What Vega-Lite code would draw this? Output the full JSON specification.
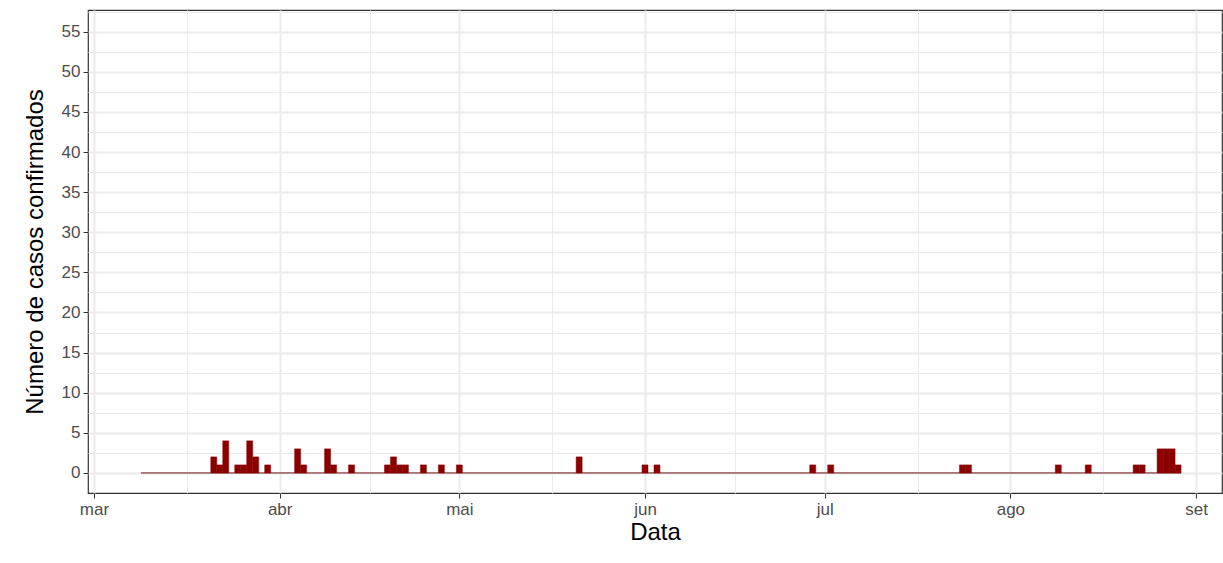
{
"$schema":"https://vega.github.io/schema/vega-lite/v6.json",
"width":1134,"height":483,"autosize":"none",
"padding":{"left":88,"top":10,"right":1,"bottom":70},
"background":"white",
"config":{"view":{"stroke":"#333333","strokeWidth":1.2},"font":"Liberation Sans"},
"datasets":{
"casos":[
{"data":"2020-03-21","n":2},{"data":"2020-03-22","n":1},{"data":"2020-03-23","n":4},{"data":"2020-03-25","n":1},{"data":"2020-03-26","n":1},{"data":"2020-03-27","n":4},{"data":"2020-03-28","n":2},{"data":"2020-03-30","n":1},
{"data":"2020-04-04","n":3},{"data":"2020-04-05","n":1},{"data":"2020-04-09","n":3},{"data":"2020-04-10","n":1},{"data":"2020-04-13","n":1},{"data":"2020-04-19","n":1},{"data":"2020-04-20","n":2},{"data":"2020-04-21","n":1},{"data":"2020-04-22","n":1},{"data":"2020-04-25","n":1},{"data":"2020-04-28","n":1},{"data":"2020-05-01","n":1},
{"data":"2020-05-21","n":2},{"data":"2020-06-01","n":1},{"data":"2020-06-03","n":1},{"data":"2020-06-29","n":1},{"data":"2020-07-02","n":1},
{"data":"2020-07-24","n":1},{"data":"2020-07-25","n":1},{"data":"2020-08-09","n":1},{"data":"2020-08-14","n":1},{"data":"2020-08-22","n":1},{"data":"2020-08-23","n":1},{"data":"2020-08-26","n":3},{"data":"2020-08-27","n":3},{"data":"2020-08-28","n":3},{"data":"2020-08-29","n":1}
],
"periodo":[{"inicio":"2020-03-08T20:00:00Z","fim":"2020-08-29T12:00:00Z","n":0}]
},
"layer":[
{"data":{"values":[{"d":"2020-03-16T12:00:00Z"}]},
"mark":{"type":"rule","strokeWidth":0},
"encoding":{"x":{"field":"d","type":"temporal","scale":{"type":"utc","padding":0,"nice":false,"domain":["2020-02-29T00:00:00Z","2020-09-05T08:00:00Z"]},
"axis":{"orient":"top","values":[{"year":2020,"month":3,"date":16,"hours":12,"utc":true},{"year":2020,"month":4,"date":16,"utc":true},{"year":2020,"month":5,"date":16,"hours":12,"utc":true},{"year":2020,"month":6,"date":16,"utc":true},{"year":2020,"month":7,"date":16,"hours":12,"utc":true},{"year":2020,"month":8,"date":16,"hours":12,"utc":true}],"labels":false,"ticks":false,"domain":false,"title":null,"grid":true,"gridColor":"#EBEBEB","gridWidth":1}},
"y":{"datum":0,"type":"quantitative","scale":{"domain":[-2.5,57.7],"nice":false,"zero":false,"padding":0},
"axis":{"orient":"right","values":[2.5,7.5,12.5,17.5,22.5,27.5,32.5,37.5,42.5,47.5,52.5,57.5],"labels":false,"ticks":false,"domain":false,"title":null,"grid":true,"gridColor":"#EBEBEB","gridWidth":1}}}},
{"data":{"name":"periodo"},"mark":{"type":"rule","color":"#6B1010","strokeWidth":1},
"encoding":{"x":{"field":"inicio","type":"temporal","axis":null},"x2":{"field":"fim"},"y":{"field":"n","type":"quantitative","axis":null}}},
{"data":{"name":"casos"},"mark":{"type":"bar","color":"#8B0000","size":6,"stroke":"#8B0000","strokeWidth":0.5},
"encoding":{
"x":{"field":"data","type":"temporal","title":"Data",
"axis":{"values":[{"year":2020,"month":3,"date":1,"utc":true},{"year":2020,"month":4,"date":1,"utc":true},{"year":2020,"month":5,"date":1,"utc":true},{"year":2020,"month":6,"date":1,"utc":true},{"year":2020,"month":7,"date":1,"utc":true},{"year":2020,"month":8,"date":1,"utc":true},{"year":2020,"month":9,"date":1,"utc":true}],"labelExpr":"['jan','fev','mar','abr','mai','jun','jul','ago','set','out','nov','dez'][utcmonth(datum.value)]","labelFontSize":17,"labelColor":"#4D4D4D","titleFontSize":24,"titleFontWeight":"normal","titleColor":"black","titlePadding":3,"domain":false,"tickColor":"#333333","tickSize":5,"labelPadding":3,"grid":true,"gridColor":"#EBEBEB","gridWidth":2}},
"y":{"field":"n","type":"quantitative","title":"Número de casos confirmados",
"axis":{"values":[0,5,10,15,20,25,30,35,40,45,50,55],"labelFontSize":17,"labelColor":"#4D4D4D","titleFontSize":24,"titleFontWeight":"normal","titleColor":"black","titlePadding":14,"domain":false,"tickColor":"#333333","tickSize":5,"labelPadding":3,"grid":true,"gridColor":"#EBEBEB","gridWidth":2}}}}
],
"resolve":{"axis":{"x":"independent","y":"independent"}}
}
